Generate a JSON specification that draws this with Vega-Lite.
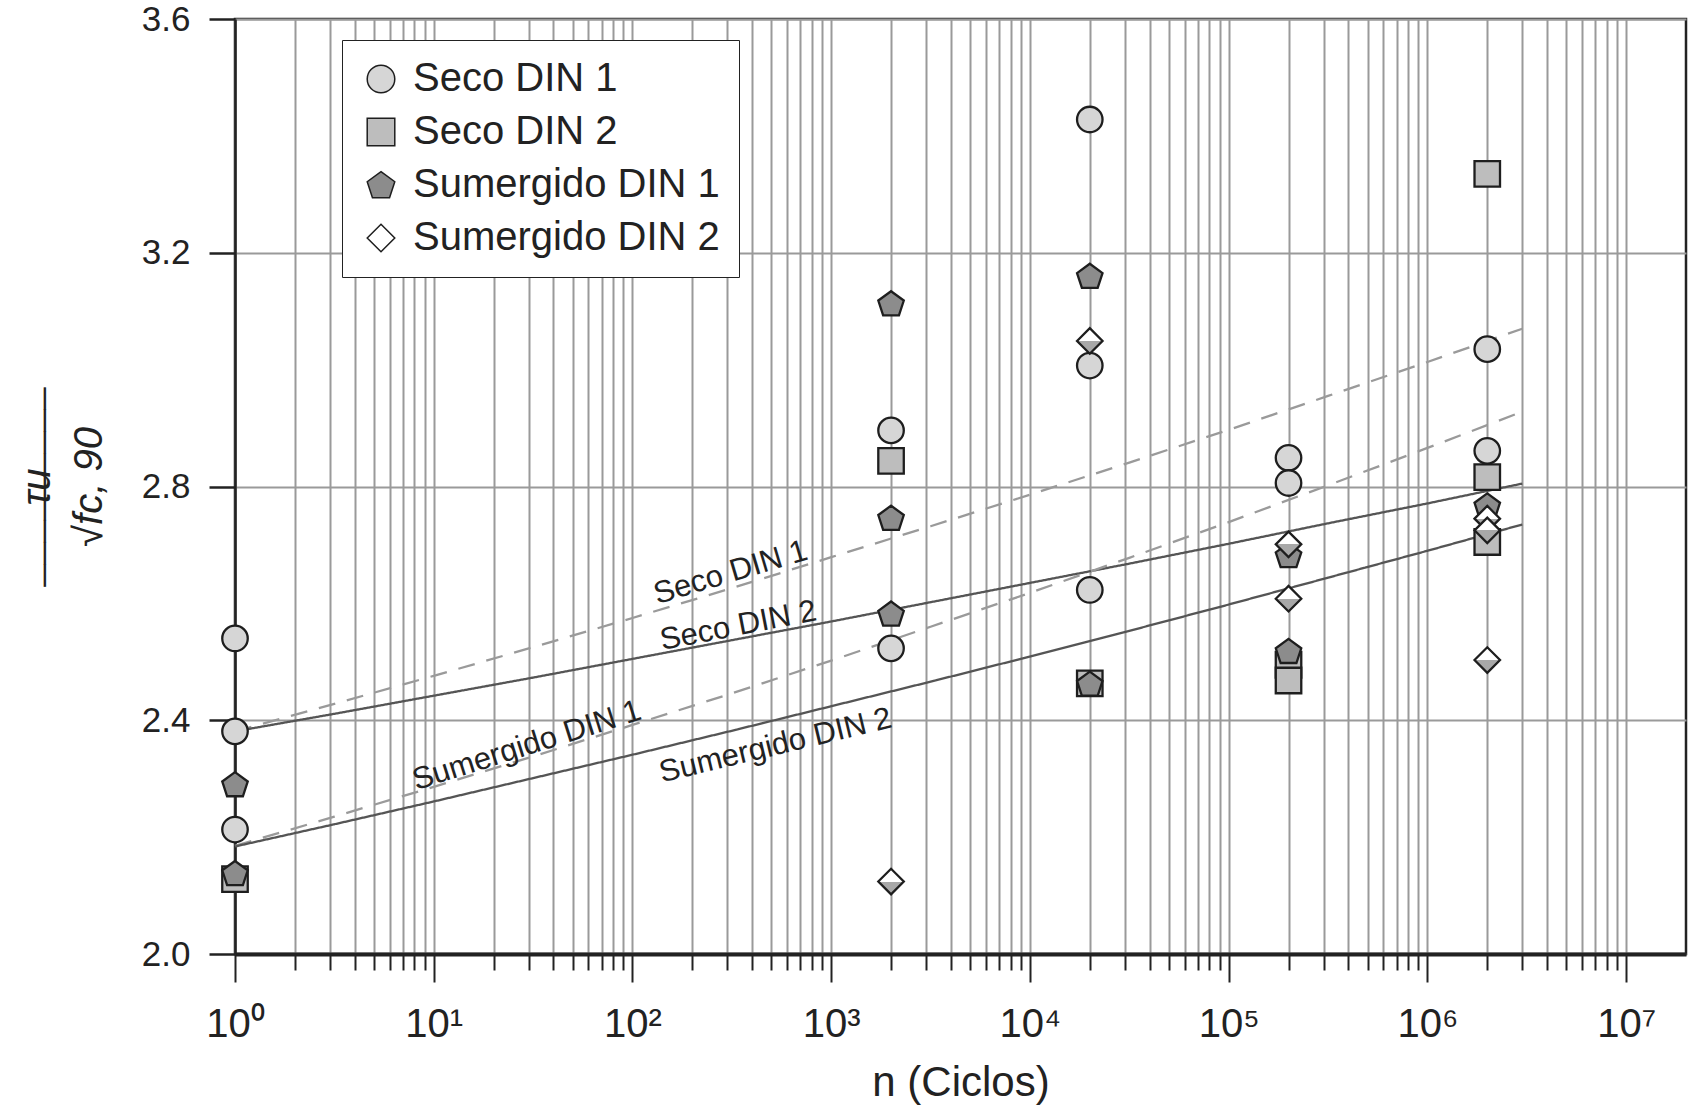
{
  "$schema": "https://vega.github.io/schema/vega-lite/v6.json",
  "width": 1451,
  "height": 935,
  "autosize": {"type": "none"},
  "padding": {"left": 235, "top": 19, "right": 3, "bottom": 160},
  "background": "white",
  "config": {
    "font": "Liberation Sans",
    "view": {"stroke": "#222222", "strokeWidth": 2.5}
  },
  "datasets": {
    "points": [
      {"n": 1, "v": 2.128, "series": "Seco DIN 2"},
      {"n": 2000, "v": 2.844, "series": "Seco DIN 2"},
      {"n": 20000, "v": 2.463, "series": "Seco DIN 2"},
      {"n": 200000, "v": 2.495, "series": "Seco DIN 2"},
      {"n": 200000, "v": 2.468, "series": "Seco DIN 2"},
      {"n": 2000000, "v": 3.335, "series": "Seco DIN 2"},
      {"n": 2000000, "v": 2.816, "series": "Seco DIN 2"},
      {"n": 2000000, "v": 2.705, "series": "Seco DIN 2"},
      {"n": 1, "v": 2.540, "series": "Seco DIN 1"},
      {"n": 1, "v": 2.381, "series": "Seco DIN 1"},
      {"n": 1, "v": 2.213, "series": "Seco DIN 1"},
      {"n": 2000, "v": 2.896, "series": "Seco DIN 1"},
      {"n": 2000, "v": 2.523, "series": "Seco DIN 1"},
      {"n": 20000, "v": 3.428, "series": "Seco DIN 1"},
      {"n": 20000, "v": 3.007, "series": "Seco DIN 1"},
      {"n": 20000, "v": 2.623, "series": "Seco DIN 1"},
      {"n": 200000, "v": 2.849, "series": "Seco DIN 1"},
      {"n": 200000, "v": 2.806, "series": "Seco DIN 1"},
      {"n": 2000000, "v": 3.035, "series": "Seco DIN 1"},
      {"n": 2000000, "v": 2.861, "series": "Seco DIN 1"},
      {"n": 1, "v": 2.290, "series": "Sumergido DIN 1"},
      {"n": 1, "v": 2.138, "series": "Sumergido DIN 1"},
      {"n": 2000, "v": 3.113, "series": "Sumergido DIN 1"},
      {"n": 2000, "v": 2.746, "series": "Sumergido DIN 1"},
      {"n": 2000, "v": 2.582, "series": "Sumergido DIN 1"},
      {"n": 20000, "v": 3.160, "series": "Sumergido DIN 1"},
      {"n": 20000, "v": 2.462, "series": "Sumergido DIN 1"},
      {"n": 200000, "v": 2.682, "series": "Sumergido DIN 1"},
      {"n": 200000, "v": 2.518, "series": "Sumergido DIN 1"},
      {"n": 2000000, "v": 2.767, "series": "Sumergido DIN 1"},
      {"n": 2000, "v": 2.124, "series": "Sumergido DIN 2"},
      {"n": 20000, "v": 3.049, "series": "Sumergido DIN 2"},
      {"n": 200000, "v": 2.701, "series": "Sumergido DIN 2"},
      {"n": 200000, "v": 2.608, "series": "Sumergido DIN 2"},
      {"n": 2000000, "v": 2.745, "series": "Sumergido DIN 2"},
      {"n": 2000000, "v": 2.725, "series": "Sumergido DIN 2"},
      {"n": 2000000, "v": 2.503, "series": "Sumergido DIN 2"}
    ],
    "fits": [
      {"n": 1, "v": 2.381, "series": "Seco DIN 1", "style": "dashed"},
      {"n": 3.162, "v": 2.428, "series": "Seco DIN 1", "style": "dashed"},
      {"n": 10, "v": 2.476, "series": "Seco DIN 1", "style": "dashed"},
      {"n": 31.62, "v": 2.525, "series": "Seco DIN 1", "style": "dashed"},
      {"n": 100, "v": 2.575, "series": "Seco DIN 1", "style": "dashed"},
      {"n": 316.2, "v": 2.626, "series": "Seco DIN 1", "style": "dashed"},
      {"n": 1000, "v": 2.679, "series": "Seco DIN 1", "style": "dashed"},
      {"n": 3162, "v": 2.732, "series": "Seco DIN 1", "style": "dashed"},
      {"n": 10000, "v": 2.786, "series": "Seco DIN 1", "style": "dashed"},
      {"n": 31623, "v": 2.841, "series": "Seco DIN 1", "style": "dashed"},
      {"n": 100000, "v": 2.897, "series": "Seco DIN 1", "style": "dashed"},
      {"n": 316228, "v": 2.955, "series": "Seco DIN 1", "style": "dashed"},
      {"n": 1000000, "v": 3.013, "series": "Seco DIN 1", "style": "dashed"},
      {"n": 3000000, "v": 3.070, "series": "Seco DIN 1", "style": "dashed"},
      {"n": 1, "v": 2.381, "series": "Seco DIN 2", "style": "solid"},
      {"n": 3.162, "v": 2.411, "series": "Seco DIN 2", "style": "solid"},
      {"n": 10, "v": 2.442, "series": "Seco DIN 2", "style": "solid"},
      {"n": 31.62, "v": 2.473, "series": "Seco DIN 2", "style": "solid"},
      {"n": 100, "v": 2.505, "series": "Seco DIN 2", "style": "solid"},
      {"n": 316.2, "v": 2.537, "series": "Seco DIN 2", "style": "solid"},
      {"n": 1000, "v": 2.569, "series": "Seco DIN 2", "style": "solid"},
      {"n": 3162, "v": 2.602, "series": "Seco DIN 2", "style": "solid"},
      {"n": 10000, "v": 2.635, "series": "Seco DIN 2", "style": "solid"},
      {"n": 31623, "v": 2.668, "series": "Seco DIN 2", "style": "solid"},
      {"n": 100000, "v": 2.702, "series": "Seco DIN 2", "style": "solid"},
      {"n": 316228, "v": 2.737, "series": "Seco DIN 2", "style": "solid"},
      {"n": 1000000, "v": 2.771, "series": "Seco DIN 2", "style": "solid"},
      {"n": 3000000, "v": 2.805, "series": "Seco DIN 2", "style": "solid"},
      {"n": 1, "v": 2.185, "series": "Sumergido DIN 1", "style": "dashed"},
      {"n": 3.162, "v": 2.235, "series": "Sumergido DIN 1", "style": "dashed"},
      {"n": 10, "v": 2.286, "series": "Sumergido DIN 1", "style": "dashed"},
      {"n": 31.62, "v": 2.338, "series": "Sumergido DIN 1", "style": "dashed"},
      {"n": 100, "v": 2.392, "series": "Sumergido DIN 1", "style": "dashed"},
      {"n": 316.2, "v": 2.446, "series": "Sumergido DIN 1", "style": "dashed"},
      {"n": 1000, "v": 2.502, "series": "Sumergido DIN 1", "style": "dashed"},
      {"n": 3162, "v": 2.560, "series": "Sumergido DIN 1", "style": "dashed"},
      {"n": 10000, "v": 2.618, "series": "Sumergido DIN 1", "style": "dashed"},
      {"n": 31623, "v": 2.678, "series": "Sumergido DIN 1", "style": "dashed"},
      {"n": 100000, "v": 2.739, "series": "Sumergido DIN 1", "style": "dashed"},
      {"n": 316228, "v": 2.802, "series": "Sumergido DIN 1", "style": "dashed"},
      {"n": 1000000, "v": 2.866, "series": "Sumergido DIN 1", "style": "dashed"},
      {"n": 3000000, "v": 2.928, "series": "Sumergido DIN 1", "style": "dashed"},
      {"n": 1, "v": 2.184, "series": "Sumergido DIN 2", "style": "solid"},
      {"n": 3.162, "v": 2.222, "series": "Sumergido DIN 2", "style": "solid"},
      {"n": 10, "v": 2.261, "series": "Sumergido DIN 2", "style": "solid"},
      {"n": 31.62, "v": 2.301, "series": "Sumergido DIN 2", "style": "solid"},
      {"n": 100, "v": 2.341, "series": "Sumergido DIN 2", "style": "solid"},
      {"n": 316.2, "v": 2.382, "series": "Sumergido DIN 2", "style": "solid"},
      {"n": 1000, "v": 2.424, "series": "Sumergido DIN 2", "style": "solid"},
      {"n": 3162, "v": 2.466, "series": "Sumergido DIN 2", "style": "solid"},
      {"n": 10000, "v": 2.509, "series": "Sumergido DIN 2", "style": "solid"},
      {"n": 31623, "v": 2.553, "series": "Sumergido DIN 2", "style": "solid"},
      {"n": 100000, "v": 2.598, "series": "Sumergido DIN 2", "style": "solid"},
      {"n": 316228, "v": 2.644, "series": "Sumergido DIN 2", "style": "solid"},
      {"n": 1000000, "v": 2.690, "series": "Sumergido DIN 2", "style": "solid"},
      {"n": 3000000, "v": 2.735, "series": "Sumergido DIN 2", "style": "solid"}
    ]
  },
  "encoding": {
    "x": {
      "field": "n",
      "type": "quantitative",
      "scale": {"type": "log", "domain": [1, 20000000], "nice": false},
      "axis": {
        "title": "n (Ciclos)",
        "values": [1,2,3,4,5,6,7,8,9,10,20,30,40,50,60,70,80,90,100,200,300,400,500,600,700,800,900,1000,2000,3000,4000,5000,6000,7000,8000,9000,10000,20000,30000,40000,50000,60000,70000,80000,90000,100000,200000,300000,400000,500000,600000,700000,800000,900000,1000000,2000000,3000000,4000000,5000000,6000000,7000000,8000000,9000000,10000000],
        "labelExpr": "abs(log(datum.value)/LN10 - round(log(datum.value)/LN10)) < 0.001 ? '10' + ['⁰','¹','²','³','⁴','⁵','⁶','⁷'][round(log(datum.value)/LN10)] : ''",
        "grid": true,
        "gridColor": "#9a9a9a",
        "gridWidth": 2,
        "tickColor": "#222222",
        "tickWidth": 2,
        "tickSize": {"condition": {"test": "abs(log(datum.value)/LN10 - round(log(datum.value)/LN10)) < 0.001", "value": 28}, "value": 16},
        "domainColor": "#222222",
        "domainWidth": 4,
        "labelFontSize": 40,
        "labelColor": "#222222",
        "labelPadding": 22,
        "labelOverlap": false,
        "labelFlush": false,
        "labelBound": false,
        "titleFontSize": 42,
        "titleFontWeight": "normal",
        "titleColor": "#222222",
        "titlePadding": 18
      }
    },
    "y": {
      "field": "v",
      "type": "quantitative",
      "scale": {"domain": [2.0, 3.6], "nice": false, "zero": false},
      "axis": {
        "title": ["τu", "¯¯¯¯¯¯¯¯¯", "√fc, 90"],
        "values": [2.0, 2.4, 2.8, 3.2, 3.6],
        "format": ".1f",
        "grid": true,
        "gridColor": "#9a9a9a",
        "gridWidth": 2,
        "tickColor": "#222222",
        "tickWidth": 2.5,
        "tickSize": 26,
        "domainColor": "#222222",
        "domainWidth": 2.5,
        "labelFontSize": 35,
        "labelColor": "#222222",
        "labelPadding": 19,
        "titleFontSize": 40,
        "titleFontStyle": "italic",
        "titleFontWeight": "normal",
        "titleColor": "#222222",
        "titleLineHeight": 26,
        "titlePadding": 32
      }
    }
  },
  "layer": [
    {
      "data": {"name": "fits"},
      "mark": {"type": "line", "strokeWidth": 2.3},
      "encoding": {
        "detail": {"field": "series", "type": "nominal"},
        "stroke": {"field": "style", "type": "nominal", "scale": {"domain": ["solid", "dashed"], "range": ["#555555", "#9a9a9a"]}, "legend": null},
        "strokeDash": {"field": "style", "type": "nominal", "scale": {"domain": ["solid", "dashed"], "range": [[1, 0], [17, 12]]}, "legend": null}
      }
    },
    {
      "data": {"values": [{"n": 312, "v": 2.652, "label": "Seco DIN 1"}]},
      "mark": {"type": "text", "angle": -16.5, "fontSize": 31, "color": "#222222", "align": "center", "baseline": "middle"},
      "encoding": {"text": {"field": "label"}}
    },
    {
      "data": {"values": [{"n": 341, "v": 2.561, "label": "Seco DIN 2"}]},
      "mark": {"type": "text", "angle": -11, "fontSize": 31, "color": "#222222", "align": "center", "baseline": "middle"},
      "encoding": {"text": {"field": "label"}}
    },
    {
      "data": {"values": [{"n": 29.4, "v": 2.356, "label": "Sumergido DIN 1"}]},
      "mark": {"type": "text", "angle": -17.5, "fontSize": 31, "color": "#222222", "align": "center", "baseline": "middle"},
      "encoding": {"text": {"field": "label"}}
    },
    {
      "data": {"values": [{"n": 525, "v": 2.356, "label": "Sumergido DIN 2"}]},
      "mark": {"type": "text", "angle": -13.5, "fontSize": 31, "color": "#222222", "align": "center", "baseline": "middle"},
      "encoding": {"text": {"field": "label"}}
    },
    {
      "data": {"name": "points"},
      "mark": {"type": "point", "filled": true, "size": 650, "stroke": "#1e1e1e", "strokeWidth": 2.3, "opacity": 1},
      "encoding": {
        "shape": {
          "field": "series",
          "type": "nominal",
          "scale": {
            "domain": ["Seco DIN 1", "Seco DIN 2", "Sumergido DIN 1", "Sumergido DIN 2"],
            "range": ["circle", "square", "M0,-0.97 L1,-0.24 L0.62,0.92 L-0.62,0.92 L-1,-0.24 Z", "diamond"]
          },
          "legend": {
            "title": null,
            "orient": "none",
            "legendX": 107,
            "legendY": 21,
            "padding": 19,
            "strokeColor": "#222222",
            "fillColor": "#ffffff",
            "labelFontSize": 40,
            "labelLimit": 600,
            "labelColor": "#222222",
            "labelOffset": 12,
            "rowPadding": 13,
            "symbolSize": 760,
            "symbolOpacity": 1,
            "encode": {
              "legend": {"update": {"strokeWidth": {"value": 2.5}}},
              "symbols": {
                "update": {
                  "shape": {"signal": "(datum.index === 3 || datum.label === 'Sumergido DIN 2' || datum.value === 'Sumergido DIN 2') ? 'M-1,0 L0,-1 L1,0 L0,-1 L-1,0 Z M1,0 L0,1 L-1,0' : scale('shape', datum.value)"},
                  "fill": {"signal": "(datum.index === 3 || datum.label === 'Sumergido DIN 2' || datum.value === 'Sumergido DIN 2') ? '#a8a8a8' : scale('fill', datum.value)"},
                  "stroke": {"value": "#1e1e1e"},
                  "strokeWidth": {"value": 2.3},
                  "opacity": {"value": 1}
                }
              }
            }
          }
        },
        "fill": {
          "condition": {"test": "datum.series === 'Sumergido DIN 2'", "value": {"gradient": "linear", "x1": 0, "y1": 0, "x2": 0, "y2": 1, "stops": [{"offset": 0, "color": "#ffffff"}, {"offset": 0.5, "color": "#ffffff"}, {"offset": 0.5, "color": "#a8a8a8"}, {"offset": 1, "color": "#a8a8a8"}]}},
          "field": "series",
          "type": "nominal",
          "scale": {
            "domain": ["Seco DIN 1", "Seco DIN 2", "Sumergido DIN 1", "Sumergido DIN 2"],
            "range": ["#d6d6d6", "#bdbdbd", "#8c8c8c", "#ffffff"]
          },
          "legend": {
            "title": null,
            "orient": "none",
            "legendX": 107,
            "legendY": 21,
            "padding": 19,
            "strokeColor": "#222222",
            "fillColor": "#ffffff",
            "labelFontSize": 40,
            "labelLimit": 600,
            "labelColor": "#222222",
            "labelOffset": 12,
            "rowPadding": 13,
            "symbolSize": 760,
            "symbolOpacity": 1,
            "encode": {
              "legend": {"update": {"strokeWidth": {"value": 2.5}}},
              "symbols": {
                "update": {
                  "shape": {"signal": "(datum.index === 3 || datum.label === 'Sumergido DIN 2' || datum.value === 'Sumergido DIN 2') ? 'M-1,0 L0,-1 L1,0 L0,-1 L-1,0 Z M1,0 L0,1 L-1,0' : scale('shape', datum.value)"},
                  "fill": {"signal": "(datum.index === 3 || datum.label === 'Sumergido DIN 2' || datum.value === 'Sumergido DIN 2') ? '#a8a8a8' : scale('fill', datum.value)"},
                  "stroke": {"value": "#1e1e1e"},
                  "strokeWidth": {"value": 2.3},
                  "opacity": {"value": 1}
                }
              }
            }
          }
        }
      }
    }
  ]
}
